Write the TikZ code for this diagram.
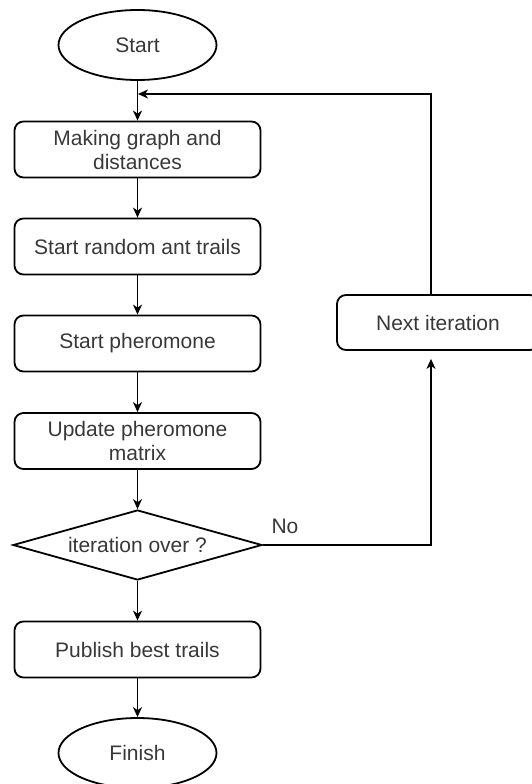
\documentclass[tikz,border=0pt]{standalone}
\usepackage{fontspec}
\setmainfont{Liberation Sans}
\usetikzlibrary{shapes.geometric,arrows.meta}
\begin{document}
\begin{tikzpicture}[x=1pt,y=-1pt,
  every node/.style={font=\fontsize{21pt}{24pt}\selectfont, text=black!78},
  stepbox/.style={draw=black, line width=1.8pt, rounded corners=9pt,
    minimum width=246pt, minimum height=56pt, align=center, inner sep=0pt},
  terminal/.style={draw=black, line width=1.8pt, ellipse,
    minimum width=158pt, minimum height=70pt, inner sep=0pt},
  decision/.style={draw=black, line width=1.8pt, diamond, aspect=3.56,
    minimum width=249pt, minimum height=70pt, inner sep=0pt},
  conn/.style={draw=black, line width=1.1pt,
    -{Stealth[length=10pt,width=9pt,inset=3pt]}}]

  \useasboundingbox (0,0) rectangle (531,784);

  % main column
  \node[terminal] (start) at (137.5,45) {Start};
  \node[stepbox] (graph) at (137.5,149.5) {Making graph and\\distances};
  \node[stepbox] (trails) at (137.5,246.5) {Start random ant trails};
  \node[stepbox] (pher) at (137.5,343.5) {Start pheromone};
  \node[stepbox] (update) at (137.5,441) {Update pheromone\\matrix};
  \node[decision] (over) at (137.5,545) {iteration over ?};
  \node[stepbox] (best) at (137.5,649.5) {Publish best trails};
  \node[terminal] (finish) at (137.5,753) {Finish};

  % loop back
  \node[stepbox, minimum width=202pt, minimum height=55pt] (next) at (438,322.5) {Next iteration};
  \node (no) at (285,526) {No};

  \coordinate (loopx) at (431,0);
  \coordinate (join) at (138,94);
  \coordinate (nextin) at ([yshift=-8pt]next.south -| loopx);

  \draw[conn] (start) -- (graph);
  \draw[conn] (graph) -- (trails);
  \draw[conn] (trails) -- (pher);
  \draw[conn] (pher) -- (update);
  \draw[conn] (update) -- (over);
  \draw[conn] (over) -- (best);
  \draw[conn] (best) -- (finish);

  \draw[conn] (over.east) -| (nextin);
  \draw[conn] (next.north -| loopx) |- (join);
\end{tikzpicture}
\end{document}
